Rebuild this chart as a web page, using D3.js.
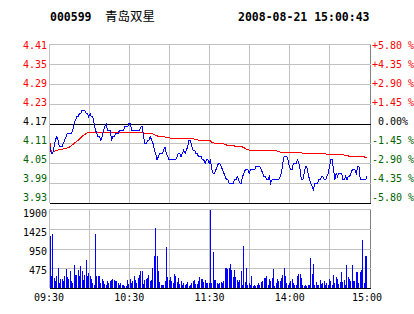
<!DOCTYPE html>
<html>
<head>
<meta charset="utf-8">
<script src="https://cdn.jsdelivr.net/npm/d3@7"></script>
<style>
  body { margin: 0; background: #fff; }
  svg { display: block; }
</style>
</head>
<body>
<div id="chart"></div>
<script>
var stockCode = "000599";
var stockName = "青岛双星";
var stamp = "2008-08-21 15:00:43";
var prevClose = 4.17;

var priceTicks = [4.41, 4.35, 4.29, 4.23, 4.17, 4.11, 4.05, 3.99, 3.93];
var pctTicks = ["+5.80 %", "+4.35 %", "+2.90 %", "+1.45 %", " 0.00%", "-1.45 %", "-2.90 %", "-4.35 %", "-5.80 %"];
var volTicks = [1900, 1425, 950, 475];
var timeTicks = ["09:30", "10:30", "11:30", "14:00", "15:00"];
var timeTickMinutes = [0, 60, 120, 180, 240];

// one value per trading minute (09:30 - 11:30, 13:01 - 14:57)
var price = [
  4.10,4.08,4.08,4.10,4.12,4.13,4.12,4.10,4.10,4.10,
  4.11,4.12,4.13,4.14,4.14,4.14,4.14,4.15,4.17,4.18,
  4.19,4.19,4.20,4.20,4.21,4.21,4.21,4.20,4.20,4.19,
  4.20,4.19,4.19,4.17,4.15,4.14,4.13,4.13,4.12,4.13,
  4.15,4.16,4.17,4.15,4.15,4.15,4.12,4.13,4.13,4.14,
  4.14,4.14,4.15,4.15,4.15,4.15,4.16,4.16,4.16,4.17,
  4.17,4.15,4.15,4.15,4.15,4.15,4.15,4.15,4.16,4.16,
  4.13,4.11,4.11,4.12,4.12,4.13,4.12,4.11,4.09,4.08,
  4.06,4.07,4.08,4.08,4.08,4.09,4.10,4.08,4.07,4.06,
  4.06,4.06,4.06,4.06,4.06,4.07,4.08,4.08,4.07,4.08,
  4.09,4.08,4.09,4.10,4.12,4.12,4.10,4.09,4.09,4.08,
  4.08,4.07,4.07,4.07,4.06,4.06,4.05,4.06,4.06,4.05,
  4.06,4.03,4.02,4.02,4.03,4.04,4.05,4.05,4.04,4.03,
  4.02,4.01,4.00,4.00,3.99,3.99,3.99,3.99,4.00,4.00,
  4.01,4.00,3.99,3.99,4.01,4.02,4.03,4.03,4.03,4.02,
  4.03,4.03,4.03,4.03,4.04,4.04,4.04,4.04,4.03,4.02,
  4.01,4.01,4.00,4.00,4.01,3.99,4.00,4.00,4.00,4.00,
  4.00,4.00,4.01,4.02,4.05,4.07,4.07,4.07,4.06,4.04,
  4.03,4.03,4.05,4.05,4.05,4.06,4.05,4.03,4.00,4.00,
  4.02,4.04,4.04,4.02,4.00,3.99,3.98,3.97,3.99,3.99,
  3.99,4.00,4.00,4.01,4.01,4.00,4.00,4.01,4.02,4.04,
  4.06,4.06,4.03,4.00,4.02,4.01,4.02,4.02,4.02,4.00,
  4.00,4.01,4.00,4.01,4.01,4.02,4.03,4.03,4.03,4.02,
  4.04,4.04,4.00,4.00,4.00,4.00,4.00,4.01
];

var avgPrice = [
  4.110,4.085,4.083,4.085,4.087,4.089,4.090,4.091,4.092,4.092,
  4.093,4.094,4.095,4.096,4.098,4.100,4.103,4.106,4.110,4.113,
  4.116,4.119,4.123,4.127,4.131,4.134,4.137,4.140,4.142,4.143,
  4.144,4.144,4.144,4.144,4.144,4.144,4.144,4.144,4.144,4.144,
  4.144,4.144,4.144,4.144,4.144,4.144,4.144,4.144,4.144,4.144,
  4.144,4.144,4.144,4.144,4.144,4.144,4.144,4.144,4.144,4.144,
  4.144,4.144,4.144,4.144,4.144,4.144,4.143,4.143,4.143,4.142,
  4.141,4.140,4.140,4.140,4.140,4.139,4.139,4.138,4.136,4.134,
  4.133,4.131,4.130,4.130,4.130,4.130,4.129,4.128,4.127,4.127,
  4.126,4.126,4.126,4.126,4.126,4.126,4.126,4.126,4.126,4.126,
  4.126,4.126,4.126,4.126,4.126,4.125,4.125,4.124,4.123,4.122,
  4.121,4.120,4.120,4.120,4.120,4.120,4.120,4.120,4.120,4.120,
  4.118,4.113,4.112,4.111,4.110,4.110,4.110,4.110,4.110,4.110,
  4.108,4.106,4.105,4.105,4.105,4.104,4.104,4.103,4.102,4.101,
  4.100,4.100,4.100,4.100,4.099,4.097,4.094,4.092,4.091,4.090,
  4.090,4.090,4.090,4.090,4.090,4.090,4.090,4.090,4.090,4.090,
  4.090,4.090,4.089,4.089,4.088,4.088,4.088,4.088,4.088,4.088,
  4.086,4.085,4.084,4.083,4.083,4.083,4.083,4.083,4.083,4.083,
  4.083,4.083,4.083,4.083,4.083,4.083,4.083,4.082,4.081,4.080,
  4.080,4.080,4.080,4.080,4.080,4.080,4.079,4.078,4.078,4.078,
  4.078,4.078,4.078,4.078,4.078,4.078,4.078,4.077,4.076,4.075,
  4.075,4.075,4.075,4.075,4.075,4.075,4.075,4.075,4.075,4.075,
  4.075,4.074,4.073,4.072,4.071,4.070,4.070,4.070,4.070,4.070,
  4.070,4.070,4.070,4.070,4.070,4.069,4.067,4.066
];

var volume = [
  1240,290,1300,230,170,290,480,120,210,210,
  160,280,460,260,210,400,160,120,560,320,
  320,440,280,530,400,200,320,680,280,360,
  280,220,120,80,1300,300,280,300,120,220,
  160,100,80,160,120,160,200,220,200,160,
  160,130,70,120,80,80,60,60,200,100,
  220,120,175,300,200,120,240,320,400,400,
  100,200,217,240,320,160,200,480,780,1440,
  780,400,136,80,80,80,160,990,265,200,
  265,160,120,345,280,136,240,104,160,80,
  120,80,104,136,56,80,120,160,200,104,
  104,160,265,217,217,136,200,120,120,120,
  1870,120,860,185,185,120,104,120,136,120,
  160,480,480,460,480,585,425,265,425,265,
  200,136,185,400,80,1000,136,480,80,120,
  80,280,56,80,56,80,120,80,136,160,
  240,240,300,80,225,160,240,460,56,120,
  217,160,160,240,320,480,280,120,80,120,
  160,217,120,80,80,300,345,345,240,80,
  56,80,56,80,80,720,345,585,80,136,
  80,80,185,104,120,160,80,120,80,217,
  160,80,320,120,265,217,104,136,377,136,
  185,80,560,265,217,160,560,160,160,377,
  377,120,377,425,1150,120,780,780
];

var W = 414, H = 314;
var mono = "'DejaVu Sans Mono', 'Liberation Mono', monospace";
var red = '#ff0000', green = '#006400', blue = '#0000ff', grid = '#c0c0c0';

var svg = d3.select('#chart').append('svg')
    .attr('width', W)
    .attr('height', H)
    .style('background', '#fff');

var x = d3.scaleLinear().domain([0, 240]).range([49, 370]);
var y = d3.scaleLinear().domain([3.93, 4.41]).range([203, 44]);
var yLab = d3.scaleLinear().domain([3.93, 4.41]).range([197, 45.7]);
var v = d3.scaleLinear().domain([0, 1900]).range([288, 209]);
var vLab = d3.scaleLinear().domain([475, 1900]).range([270.8, 213.3]);

var px = function(n) { return Math.round(n) + 0.5; };
var gx = function(n) { return Math.floor(n) + 0.5; };

var g = svg.append('g').attr('shape-rendering', 'crispEdges');

// vertical grid, both panels
var halfHours = d3.range(0, 9).map(function(i) { return i * 30; });
[[44, 203], [209, 288]].forEach(function(span) {
  g.selectAll(null).data(halfHours).enter().append('line')
    .attr('x1', function(d) { return gx(x(d)); })
    .attr('x2', function(d) { return gx(x(d)); })
    .attr('y1', span[0]).attr('y2', span[1])
    .attr('stroke', function(d) { return d === 240 ? '#808080' : grid; });
});

// horizontal grid, price
g.selectAll(null).data(priceTicks).enter().append('line')
  .attr('x1', gx(x(0))).attr('x2', gx(x(240)) + 0.5)
  .attr('y1', function(d) { return px(y(d)); })
  .attr('y2', function(d) { return px(y(d)); })
  .attr('stroke', function(d) { return (d === prevClose || d === 3.93) ? '#000' : grid; });

// horizontal grid, volume
g.selectAll(null).data(volTicks.concat([0])).enter().append('line')
  .attr('x1', gx(x(0))).attr('x2', gx(x(240)) + 0.5)
  .attr('y1', function(d) { return px(v(d)); })
  .attr('y2', function(d) { return px(v(d)); })
  .attr('stroke', function(d) { return d === 0 ? '#000' : grid; });

// volume bars
g.selectAll('rect.vol').data(volume).enter().append('rect')
  .attr('class', 'vol')
  .attr('x', function(d, i) { return Math.floor(x(i)) + 1; })
  .attr('width', 1)
  .attr('y', function(d) { return Math.round(v(d)); })
  .attr('height', function(d) { return 288 - Math.round(v(d)); })
  .attr('fill', blue);

var line = d3.line()
  .x(function(d, i) { return x(i) + 1; })
  .y(function(d) { return y(d); });

svg.append('path').datum(avgPrice)
  .attr('d', line)
  .attr('fill', 'none')
  .attr('stroke', red)
  .attr('stroke-width', 1)
  .attr('shape-rendering', 'crispEdges');

svg.append('path').datum(price)
  .attr('d', line)
  .attr('fill', 'none')
  .attr('stroke', blue)
  .attr('stroke-width', 1)
  .attr('shape-rendering', 'crispEdges');

var tickColor = function(d) {
  if (d > prevClose) return red;
  if (d < prevClose) return green;
  return '#000';
};

// left price labels
svg.selectAll('text.pl').data(priceTicks).enter().append('text')
  .attr('class', 'pl')
  .attr('x', 47)
  .attr('y', function(d) { return yLab(d) + 3.5; })
  .attr('text-anchor', 'end')
  .attr('font-family', mono).attr('font-size', 10)
  .attr('fill', tickColor)
  .text(function(d) { return d.toFixed(2); });

// right percent labels
svg.selectAll('text.pr').data(pctTicks).enter().append('text')
  .attr('class', 'pr')
  .attr('x', 372)
  .attr('y', function(d, i) { return yLab(priceTicks[i]) + 3.5; })
  .attr('font-family', mono).attr('font-size', 10)
  .attr('fill', function(d, i) { return tickColor(priceTicks[i]); })
  .style('white-space', 'pre')
  .text(function(d) { return d; });

// volume labels
svg.selectAll('text.vl').data(volTicks).enter().append('text')
  .attr('class', 'vl')
  .attr('x', 47)
  .attr('y', function(d) { return vLab(d) + 3.5; })
  .attr('text-anchor', 'end')
  .attr('font-family', mono).attr('font-size', 10)
  .attr('fill', '#000')
  .text(function(d) { return d; });

// time labels
svg.selectAll('text.tl').data(timeTicks).enter().append('text')
  .attr('class', 'tl')
  .attr('x', function(d, i) { return x(timeTickMinutes[i]) - (i === timeTicks.length - 1 ? 3 : 0); })
  .attr('y', 301)
  .attr('text-anchor', 'middle')
  .attr('font-family', mono).attr('font-size', 10)
  .attr('fill', '#000')
  .text(function(d) { return d; });

// title
svg.append('text')
  .attr('x', 50).attr('y', 21)
  .attr('font-family', mono).attr('font-size', 11.5).attr('font-weight', 'bold')
  .text(stockCode);
svg.append('text')
  .attr('x', 105).attr('y', 21)
  .attr('font-family', "'Noto Sans CJK SC', sans-serif").attr('font-size', 12.5)
  .text(stockName);
svg.append('text')
  .attr('x', 238).attr('y', 21)
  .attr('font-family', mono).attr('font-size', 11.5).attr('font-weight', 'bold')
  .text(stamp);
</script>
</body>
</html>
